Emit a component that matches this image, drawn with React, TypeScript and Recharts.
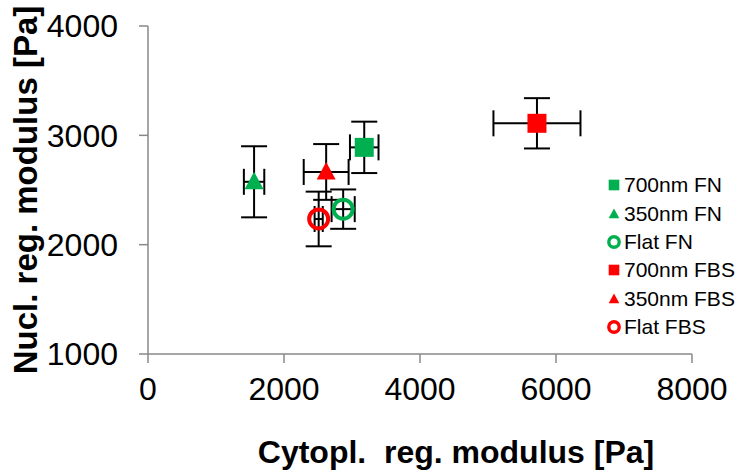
import React from "react";
import {
  ScatterChart,
  Scatter,
  XAxis,
  YAxis,
  ErrorBar,
  Legend,
  Label,
} from "recharts";

// substrate / coating groups, in legend order
const seriesNames = ["700nm FN", "350nm FN", "Flat FN", "700nm FBS", "350nm FBS", "Flat FBS"];
const cytoModulus = [3180, 1560, 2870, 5720, 2620, 2510];
const cytoError   = [210, 150, 170, 640, 330, 60];
const nuclModulus = [2890, 2575, 2325, 3110, 2665, 2235];
const nuclError   = [235, 325, 180, 230, 255, 250];

const xTicks = [0, 2000, 4000, 6000, 8000];
const yTicks = [1000, 2000, 3000, 4000];

const GREEN = "#00b050";
const RED = "#ff0000";
const AXIS = "#898989";
const FONT = "'Liberation Sans', Arial, sans-serif";

type Kind = "square" | "triangle" | "ring";
const markerKinds: Kind[] = ["square", "triangle", "ring", "square", "triangle", "ring"];
const markerColors = [GREEN, GREEN, GREEN, RED, RED, RED];

function drawMarker(kind: Kind, color: string, cx: number, cy: number, big: boolean) {
  const s = big ? 1 : 0.56;
  if (kind === "square") {
    const h = 9.5 * s;
    return <rect x={cx - h} y={cy - h} width={h * 2} height={h * 2} fill={color} />;
  }
  if (kind === "triangle") {
    const pts = `${cx},${cy - 10 * s} ${cx - 9.5 * s},${cy + 7.5 * s} ${cx + 9.5 * s},${cy + 7.5 * s}`;
    return <polygon points={pts} fill={color} />;
  }
  return <circle cx={cx} cy={cy} r={big ? 9.5 : 5.2} fill="none" stroke={color} strokeWidth={big ? 4 : 3.4} />;
}

function LegendBox() {
  return (
    <div style={{ fontFamily: FONT, fontSize: 21, color: "#000" }}>
      {seriesNames.map((name, i) => (
        <div key={name} style={{ display: "flex", alignItems: "center", height: 28.4 }}>
          <svg width={18} height={18} style={{ marginRight: 2 }}>
            {drawMarker(markerKinds[i], markerColors[i], 10, 9, false)}
          </svg>
          <span>{name}</span>
        </div>
      ))}
    </div>
  );
}

function YTitle(props: any) {
  const vb = props.viewBox;
  const x = vb.x + 37;
  const y = vb.y + vb.height / 2;
  return (
    <text x={x} y={y} transform={`rotate(-90 ${x} ${y})`} textAnchor="middle"
      fontSize={33} fontWeight="bold" fill="#000">
      Nucl. reg. modulus [Pa]
    </text>
  );
}

function XTitle(props: any) {
  const vb = props.viewBox;
  return (
    <text x={vb.x + vb.width / 2 + 36} y={vb.y + 109} textAnchor="middle"
      fontSize={32} fontWeight="bold" fill="#000" style={{ whiteSpace: "pre" }}>
      {"Cytopl.  reg. modulus [Pa]"}
    </text>
  );
}

export default function App() {
  return (
    <div style={{ position: "absolute", left: 0, top: 0, width: 738, height: 476, background: "#fff", fontFamily: FONT }}>
      <ScatterChart width={738} height={476} margin={{ top: 26, right: 46, bottom: 0, left: 0 }}>
        <XAxis
          type="number"
          dataKey="x"
          domain={[0, 8000]}
          ticks={xTicks}
          interval={0}
          height={122}
          tickSize={9}
          tickMargin={14}
          axisLine={{ stroke: AXIS, strokeWidth: 1.5 }}
          tickLine={{ stroke: AXIS, strokeWidth: 1.5 }}
          tick={{ fill: "#000", fontSize: 32 }}
        >
          <Label content={XTitle} />
        </XAxis>
        <YAxis
          type="number"
          dataKey="y"
          domain={[1000, 4000]}
          ticks={yTicks}
          interval={0}
          width={148}
          tickSize={9}
          tickMargin={21}
          axisLine={{ stroke: AXIS, strokeWidth: 1.5 }}
          tickLine={{ stroke: AXIS, strokeWidth: 1.5 }}
          tick={{ fill: "#000", fontSize: 32 }}
        >
          <Label content={YTitle} />
        </YAxis>
        <Legend
          layout="vertical"
          align="center"
          verticalAlign="middle"
          content={() => <LegendBox />}
          wrapperStyle={{ left: 604, top: 171, width: 134 }}
        />
        {seriesNames.map((name, i) => (
          <Scatter
            key={name}
            name={name}
            data={[{ x: cytoModulus[i], y: nuclModulus[i], ex: cytoError[i], ey: nuclError[i] }]}
            isAnimationActive={false}
            shape={(p: any) => drawMarker(markerKinds[i], markerColors[i], p.cx, p.cy, true)}
          >
            <ErrorBar dataKey="ex" direction="x" width={13} stroke="#000" strokeWidth={2} />
            <ErrorBar dataKey="ey" direction="y" width={13} stroke="#000" strokeWidth={2} />
          </Scatter>
        ))}
      </ScatterChart>
    </div>
  );
}
